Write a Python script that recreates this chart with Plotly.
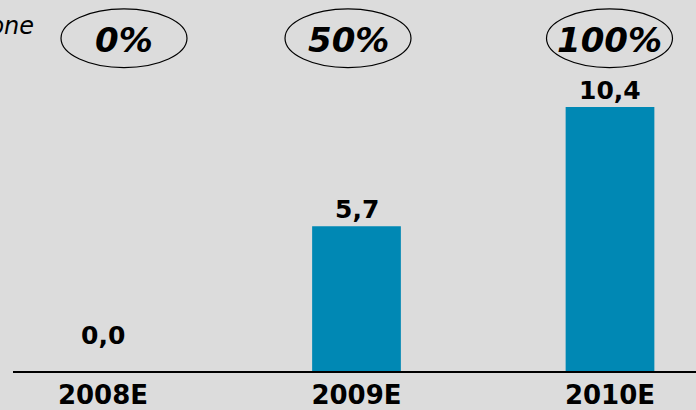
import plotly.graph_objects as go

categories = ["2008E", "2009E", "2010E"]
values = [0.0, 5.7, 10.4]
value_labels = ["0,0", "5,7", "10,4"]
share_labels = ["0%", "50%", "100%"]
unit_label = "milione"

BG = "#dcdcdc"
BAR = "#0088b4"
FONT = "DejaVu Sans"

W, H = 696, 410
ml, mr, mt, mb = 13, 0, 0, 37
plot_w = W - ml - mr
plot_h = H - mt - mb
step = 253.5
first_center = 103 - ml
xr = [-first_center / step, (plot_w - first_center) / step]
k = 25.52
yr = [0, plot_h / k]

# header ellipse centres (pixels, layout only)
ellipse_px = [124, 348, 609.5]
ell_w, ell_top, ell_bot = 126, 9, 68

fig = go.Figure()
fig.add_trace(go.Bar(
    x=list(range(len(categories))), y=values, width=0.35,
    marker=dict(color=BAR, line=dict(width=0)),
    hoverinfo="skip",
))

for i, (v, t) in enumerate(zip(values, value_labels)):
    fig.add_annotation(
        x=i, y=v, xref="x", yref="y", text=t, showarrow=False,
        yanchor="middle", yshift=36 if v == 0 else 17,
        font=dict(family=FONT, size=25, color="black", weight="bold"),
    )

def px_to_paper_x(px):
    return (px - ml) / plot_w

for cx, t in zip(ellipse_px, share_labels):
    fig.add_shape(
        type="circle", xref="paper", yref="paper",
        x0=px_to_paper_x(cx - ell_w / 2), x1=px_to_paper_x(cx + ell_w / 2),
        y0=1 - ell_bot / plot_h, y1=1 - ell_top / plot_h,
        line=dict(color="black", width=1.2), fillcolor="rgba(0,0,0,0)",
    )
    fig.add_annotation(
        x=px_to_paper_x(cx), y=1 - 40 / plot_h, xref="paper", yref="paper", text=t,
        showarrow=False, yanchor="middle", xanchor="center",
        font=dict(family=FONT, size=34, color="black", weight="bold", style="italic"),
    )

fig.add_annotation(
    x=px_to_paper_x(36), y=1 - 26 / plot_h, xref="paper", yref="paper",
    text=unit_label, showarrow=False, xanchor="right", yanchor="middle",
    font=dict(family=FONT, size=24, color="black", style="italic"),
)

fig.update_layout(
    width=W, height=H, margin=dict(l=ml, r=mr, t=mt, b=mb),
    paper_bgcolor=BG, plot_bgcolor=BG, showlegend=False,
    xaxis=dict(
        range=xr, tickmode="array", tickvals=list(range(len(categories))),
        ticktext=categories, showgrid=False, zeroline=False,
        showline=True, linecolor="black", linewidth=1.5, ticks="",
        tickfont=dict(family=FONT, size=26, color="black", weight="bold"),
        fixedrange=True,
    ),
    yaxis=dict(range=yr, visible=False, fixedrange=True),
)

fig.write_html("out.html", config={"displayModeBar": False})
